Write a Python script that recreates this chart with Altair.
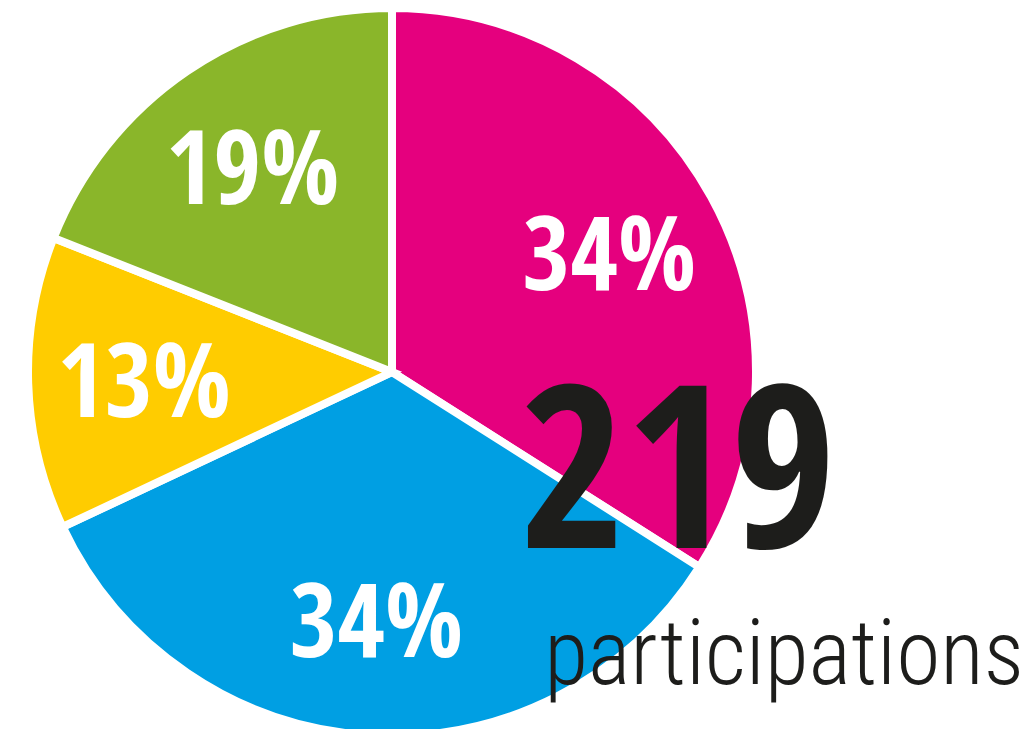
import altair as alt
import pandas as pd

# Data
categories = ["A", "B", "C", "D"]
values = [34, 34, 13, 19]
labels = ["34%", "34%", "13%", "19%"]
colors = ["#E5007E", "#009FE3", "#FFCC00", "#8AB62A"]
order_idx = [0, 1, 2, 3]

total_text = ["219"]
caption_text = ["participations"]

df = pd.DataFrame({
    "category": categories,
    "value": values,
    "label": labels,
    "order": order_idx,
})

CX, CY = 384, 364
BOLD_FONT = "Open Sans Condensed, Roboto Condensed, DejaVu Sans Condensed, sans-serif"
THIN_FONT = "Roboto Condensed, DejaVu Sans Condensed, sans-serif"

base = alt.Chart(df).encode(
    theta=alt.Theta("value:Q", stack=True),
    order=alt.Order("order:Q"),
    x=alt.value(CX),
    y=alt.value(CY),
)

arcs = base.mark_arc(outerRadius=364, stroke="white", strokeWidth=8).encode(
    color=alt.Color("category:N",
                    scale=alt.Scale(domain=categories, range=colors),
                    legend=None),
)

pct = base.mark_text(
    radius=248, font=BOLD_FONT,
    fontWeight="bold", fontSize=103, color="white", align="center",
    baseline="middle", dy=6,
).encode(text="label:N")

big = alt.Chart(pd.DataFrame({"t": total_text})).mark_text(
    font=BOLD_FONT,
    fontWeight="bold", fontSize=228, color="#1D1D1B",
    align="center", baseline="alphabetic",
).encode(x=alt.value(670), y=alt.value(540), text="t:N")

cap = alt.Chart(pd.DataFrame({"t": caption_text})).mark_text(
    font=THIN_FONT,
    fontWeight=300, fontSize=90, color="#1D1D1B",
    align="center", baseline="alphabetic",
).encode(x=alt.value(776), y=alt.value(676), text="t:N")

chart = alt.layer(arcs, pct, big, cap).properties(
    width=1015, height=721,
    autosize=alt.AutoSizeParams(type="none"),
    padding=0,
).configure_view(strokeWidth=0)

chart.save("out.html", embed_options={"renderer": "svg", "actions": False})
